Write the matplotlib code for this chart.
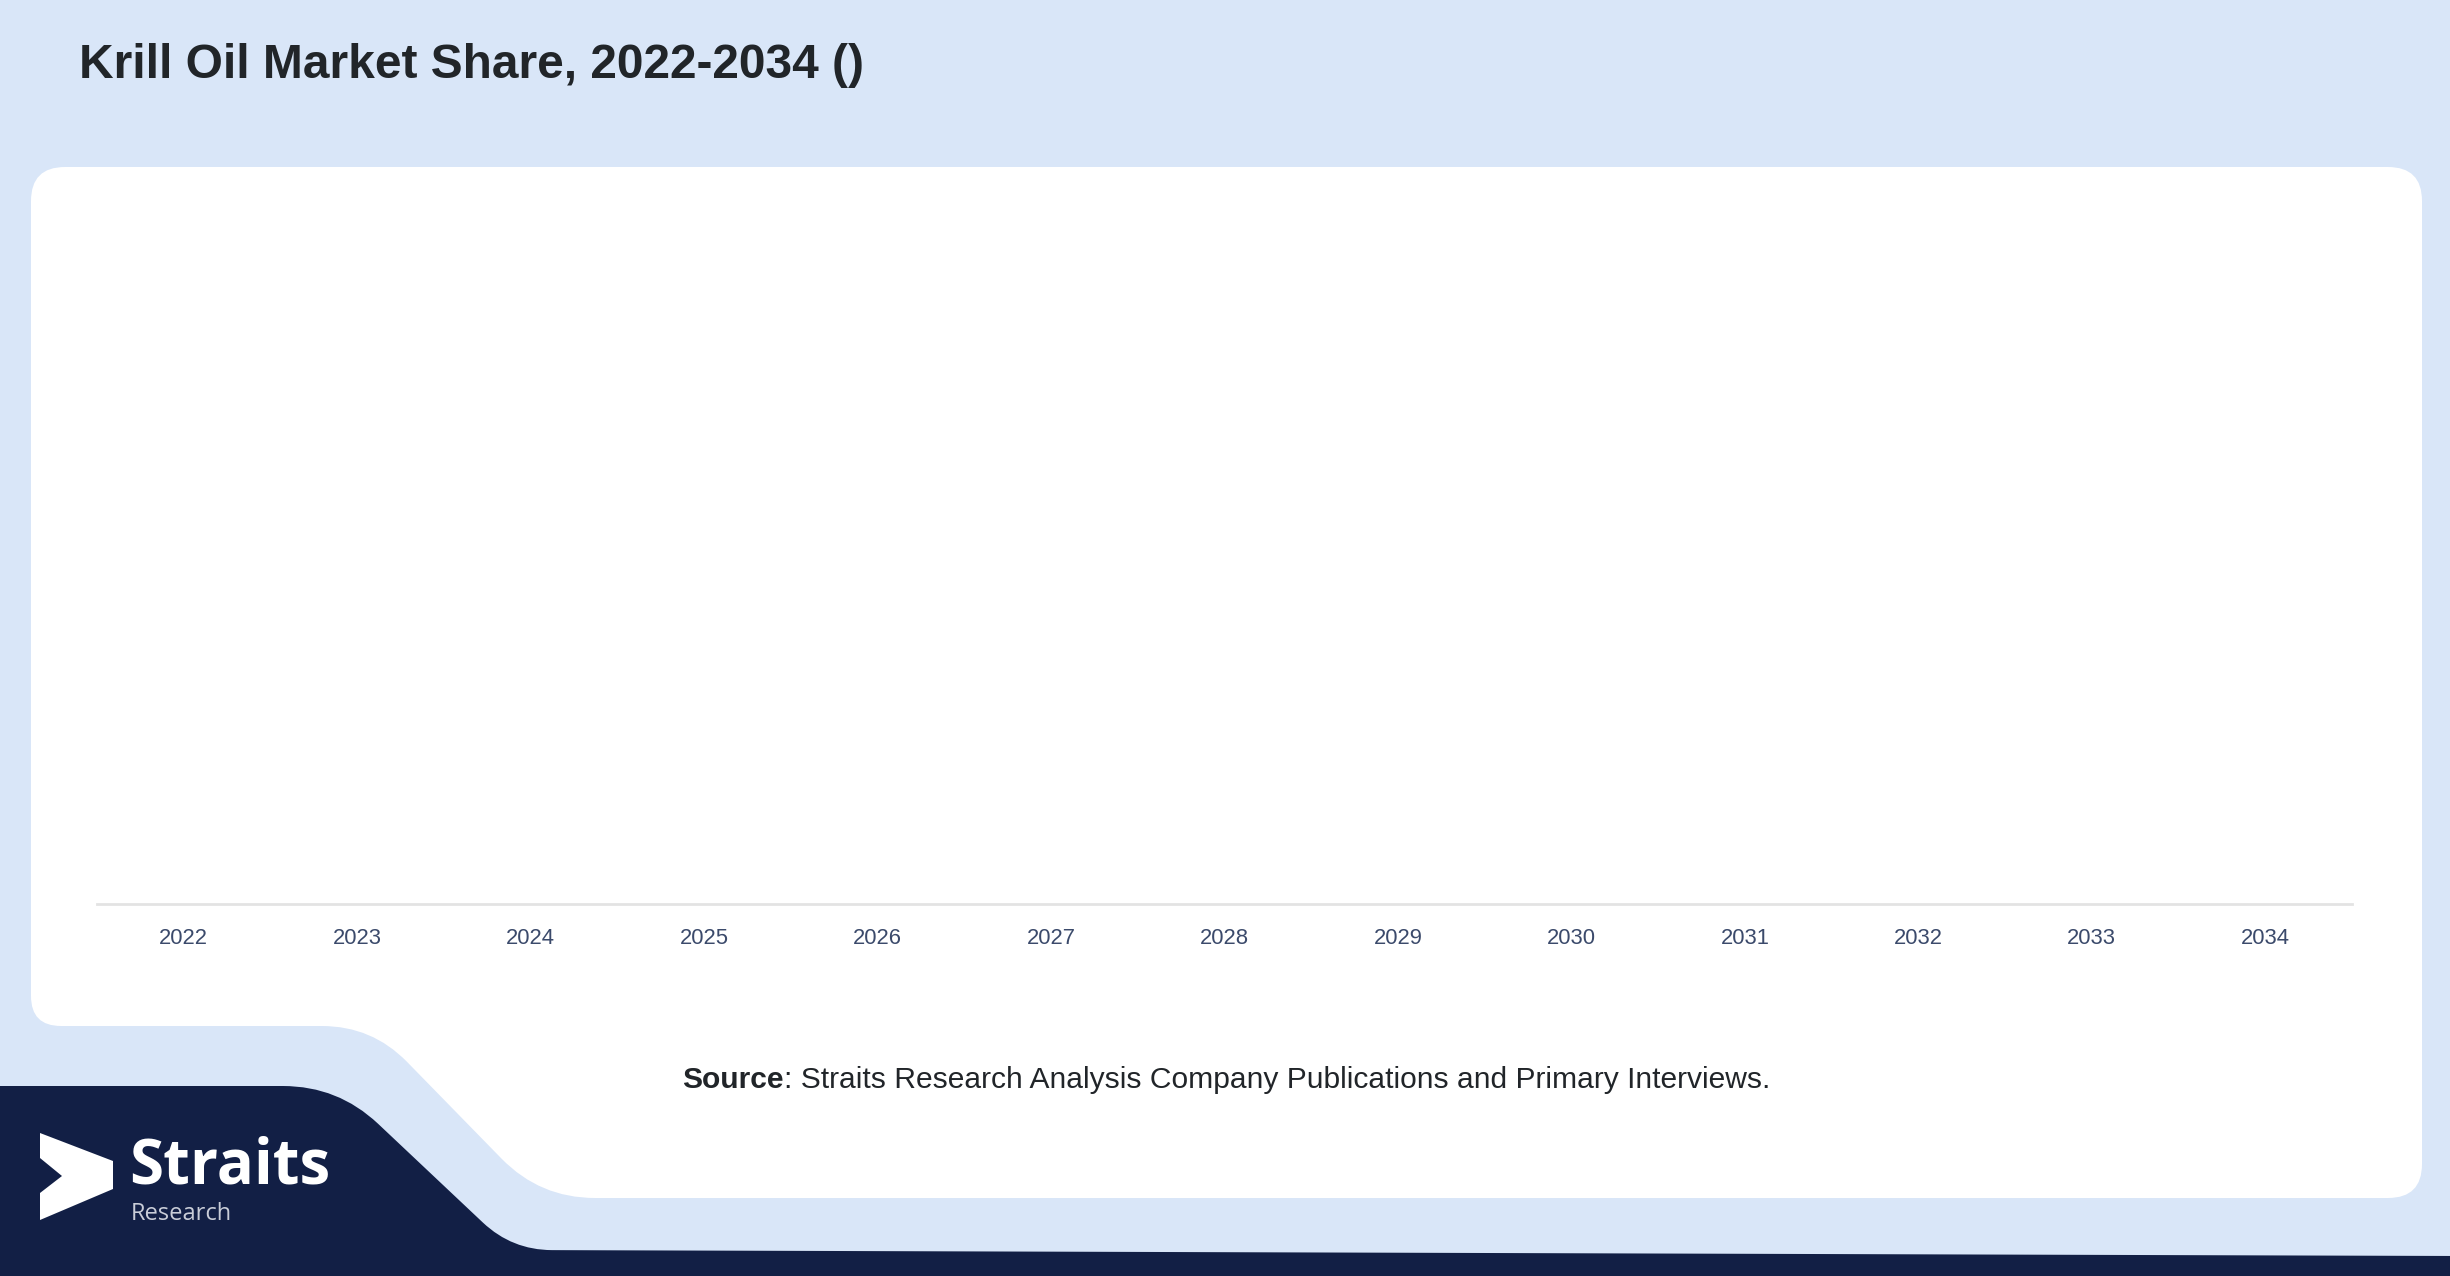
"""Krill oil market share, 2022-2034: empty category chart on a Straits-style card."""

import matplotlib
matplotlib.use("Agg")
import matplotlib.pyplot as plt
import numpy as np
from matplotlib.path import Path
from matplotlib.patches import PathPatch, Polygon

W, H = 2450, 1276

years = ["2022", "2023", "2024", "2025", "2026", "2027", "2028",
         "2029", "2030", "2031", "2032", "2033", "2034"]
share = [0, 0, 0, 0, 0, 0, 0, 0, 0, 0, 0, 0, 0]

TITLE = "Krill Oil Market Share, 2022-2034 ()"
SOURCE_HEAD = "Source"
SOURCE_TAIL = ": Straits Research Analysis Company Publications and Primary Interviews."

BG = "#d9e6f8"
NAVY = "#121f45"
INK = "#212529"
TICK = "#3b4a6b"


def rounded_path(pts, radii):
    """Closed polygon with each corner softened by a quadratic curve."""
    verts, codes = [], []
    n = len(pts)
    for i in range(n):
        p0 = np.array(pts[i - 1], float)
        p1 = np.array(pts[i], float)
        p2 = np.array(pts[(i + 1) % n], float)
        r = radii[i]
        d1 = (p0 - p1) / np.linalg.norm(p0 - p1)
        d2 = (p2 - p1) / np.linalg.norm(p2 - p1)
        a = p1 + d1 * r
        b = p1 + d2 * r
        verts.append(a)
        codes.append(Path.MOVETO if i == 0 else Path.LINETO)
        verts += [p1, b]
        codes += [Path.CURVE3, Path.CURVE3]
    verts.append(verts[0])
    codes.append(Path.CLOSEPOLY)
    return Path(verts, codes)


fig = plt.figure(figsize=(W / 100, H / 100), dpi=100, facecolor=BG)

# background layer in pixel coordinates
bg = fig.add_axes([0, 0, 1, 1], zorder=0)
bg.set_xlim(0, W)
bg.set_ylim(H, 0)
bg.axis("off")

card = [(31, 167), (2422, 167), (2422, 1198), (540, 1198), (372, 1026), (31, 1026)]
bg.add_patch(PathPatch(rounded_path(card, [34, 34, 34, 55, 50, 30]),
                       facecolor="white", edgecolor="none"))

navy = [(-5, 1086), (338, 1086), (512, 1250), (2460, 1256), (2460, 1290), (-5, 1290)]
bg.add_patch(PathPatch(rounded_path(navy, [1, 55, 40, 1, 1, 1]),
                       facecolor=NAVY, edgecolor="none"))

# logo mark
chevron = [(40, 1133), (113, 1161), (113, 1189), (40, 1220),
           (40, 1193), (62, 1176), (40, 1158)]
bg.add_patch(Polygon(chevron, closed=True, facecolor="white", edgecolor="none"))
bg.text(129, 1183, "Straits", color="white", fontsize=44.5, fontweight="bold",
        family="Open Sans", ha="left", va="baseline")
bg.text(131, 1220, "Research", color="#c9cdd8", fontsize=17,
        family="Open Sans", ha="left", va="baseline")

bg.text(79, 66, TITLE, color=INK, fontsize=34.5, fontweight="bold",
        family="Liberation Sans", ha="left", va="center")

head = bg.text(682, 1088, SOURCE_HEAD, color=INK, fontsize=21.6, fontweight="bold",
               family="Liberation Sans", ha="left", va="baseline")
bg.annotate(SOURCE_TAIL, xy=(1, 0), xycoords=head, color=INK, fontsize=21.6,
            family="Liberation Sans", ha="left", va="bottom")

# chart area
left, right = 97 / W, 2352 / W
bottom, top = 1 - 904 / H, 1 - 200 / H
ax = fig.add_axes([left, bottom, right - left, top - bottom], zorder=1)
ax.set_facecolor("none")
x = np.arange(len(years))
ax.bar(x, share, width=0.6, color="#1f4e9c")
ax.set_xlim(-0.5, len(years) - 0.5)
ax.set_ylim(0, 1)
ax.set_xticks(x)
ax.set_xticklabels(years, fontsize=15.8, color=TICK, family="Liberation Sans")
ax.tick_params(axis="x", length=0, pad=17)
ax.set_yticks([])
for side in ("top", "left", "right"):
    ax.spines[side].set_visible(False)
ax.spines["bottom"].set_color("#e3e3e3")
ax.spines["bottom"].set_linewidth(2)

fig.savefig("out.png", dpi=100, facecolor=BG)
